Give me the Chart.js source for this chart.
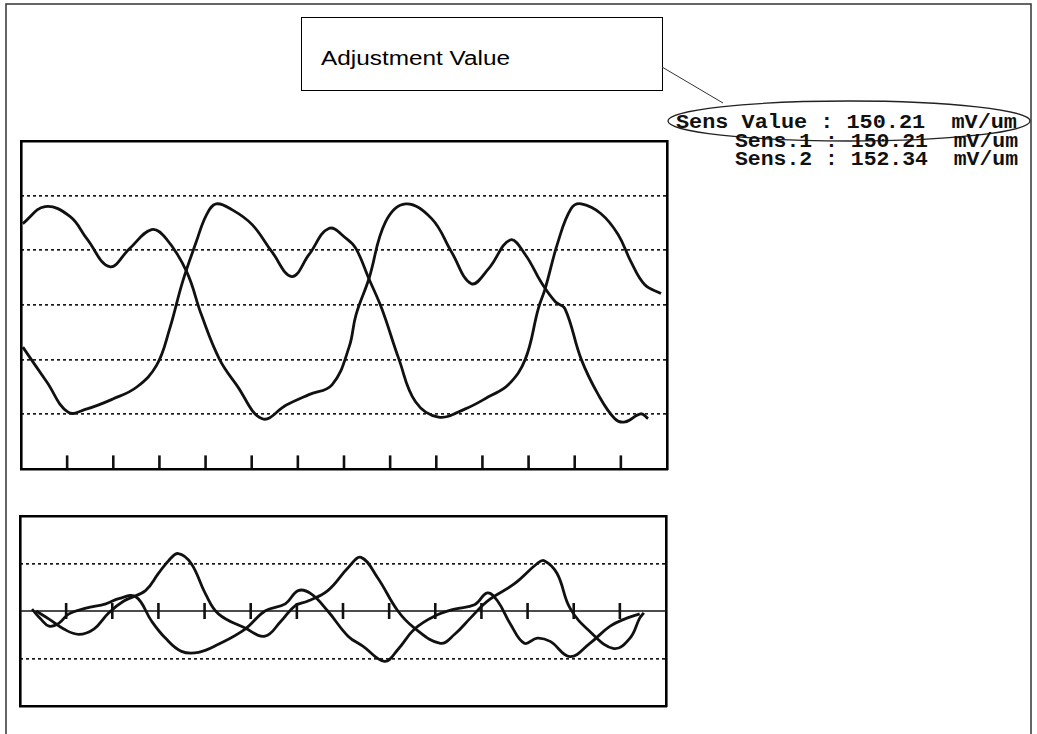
<!DOCTYPE html>
<html><head><meta charset="utf-8">
<script src="https://cdn.jsdelivr.net/npm/chart.js@4.4.1/dist/chart.umd.min.js"></script>
<style>
html,body{margin:0;padding:0;background:#fff;}
body{width:1037px;height:734px;position:relative;overflow:hidden;}
#ann{position:absolute;left:0;top:0;}
canvas{position:absolute;}
#cTop{left:18px;top:138px;}
#cBot{left:17px;top:513px;}
.mono{font-family:"Liberation Mono","DejaVu Sans Mono",monospace;font-weight:bold;font-size:20px;white-space:pre;fill:#111;}
</style></head><body>
<svg id="ann" width="1037" height="734">
  <path d="M6 740 L6 4 L1031 4 L1031 740" fill="none" stroke="#333" stroke-width="1.5"/>
  <rect x="301.5" y="17.5" width="361" height="73" fill="#fff" stroke="#000" stroke-width="1"/>
  <text x="321" y="65" font-family="Liberation Sans, Arial, sans-serif" font-size="20" textLength="189" lengthAdjust="spacingAndGlyphs" fill="#000">Adjustment Value</text>
  <line x1="662" y1="67" x2="723" y2="103" stroke="#333" stroke-width="1"/>
  <ellipse cx="849" cy="121" rx="181" ry="20" fill="none" stroke="#222" stroke-width="1.3"/>
  <text class="mono" x="676" y="128" textLength="341" lengthAdjust="spacingAndGlyphs">Sens Value : 150.21  mV/um</text>
  <text class="mono" x="735" y="147" textLength="283" lengthAdjust="spacingAndGlyphs">Sens.1 : 150.21  mV/um</text>
  <text class="mono" x="735" y="165" textLength="283" lengthAdjust="spacingAndGlyphs">Sens.2 : 152.34  mV/um</text>
</svg>
<canvas id="cTop" width="652" height="334"></canvas>
<canvas id="cBot" width="652" height="196"></canvas>
<script>
// ---- data (x in tick divisions 0..14) ----
const tickPositions = [1,2,3,4,5,6,7,8,9,10,11,12,13];

const topSig1X = [0.04,0.52,1.06,1.43,1.92,2.35,2.83,3.15,3.59,3.91,4.30,4.67,5.23,5.75,6.24,6.74,7.11,7.26,7.54,7.90,8.34,8.90,9.33,9.76,10.13,10.60,10.93,11.27,11.58,11.79,12.14,12.51,12.87,13.09,13.43,13.59];
const topSig1Y = [4.49,4.80,4.62,4.21,3.70,4.03,4.38,4.21,3.61,2.82,2.01,1.54,0.92,1.17,1.36,1.54,2.23,2.82,3.48,4.52,4.85,4.58,3.97,3.39,3.66,4.19,3.92,3.42,3.06,2.93,2.01,1.36,0.92,0.86,1.01,0.92];

const topSig2X = [0.04,0.56,1.02,1.43,1.99,2.51,2.94,3.22,3.50,3.80,4.02,4.23,4.58,5.01,5.44,5.87,6.24,6.67,7.06,7.26,7.54,7.82,8.19,8.55,9.05,9.63,10.13,10.56,10.93,11.21,11.36,11.64,11.92,12.14,12.57,12.94,13.22,13.52,13.87];
const topSig2Y = [2.23,1.59,1.04,1.10,1.28,1.50,1.90,2.56,3.42,4.16,4.65,4.85,4.74,4.47,3.97,3.52,3.92,4.40,4.21,4.03,3.48,2.93,2.01,1.23,0.95,1.10,1.32,1.54,2.01,2.93,3.30,4.16,4.76,4.85,4.67,4.29,3.79,3.37,3.21];

const botSig1X = [0.35,0.63,0.95,1.27,1.60,1.92,2.25,2.72,3.00,3.22,3.43,3.71,4.02,4.30,4.88,5.31,5.66,5.96,6.24,6.67,7.11,7.39,7.75,8.19,8.55,9.11,9.42,9.76,10.13,10.71,11.21,11.36,11.64,11.92,12.35,12.87,13.22,13.43,13.52];
const botSig1Y = [0.00,-0.17,-0.38,-0.49,-0.38,-0.04,0.21,0.43,0.79,1.06,1.21,1.00,0.36,-0.06,-0.36,-0.53,-0.21,0.11,0.21,0.43,0.91,1.13,0.70,0.00,-0.36,-0.68,-0.49,-0.15,0.21,0.57,1.00,1.06,0.79,0.06,-0.43,-0.79,-0.57,-0.15,-0.04];

const botSig2X = [0.26,0.45,0.63,0.84,1.06,1.43,1.86,2.14,2.51,2.85,3.15,3.50,3.87,4.30,4.88,5.31,5.75,6.03,6.31,6.67,7.11,7.43,7.90,8.19,8.55,8.98,9.42,9.85,10.13,10.35,10.63,10.93,11.21,11.49,11.92,12.35,12.79,13.15,13.43];
const botSig2Y = [0.04,-0.17,-0.32,-0.26,-0.06,0.06,0.15,0.26,0.30,-0.21,-0.57,-0.85,-0.87,-0.70,-0.38,0.00,0.15,0.43,0.36,0.00,-0.53,-0.74,-1.06,-0.81,-0.38,-0.11,0.04,0.13,0.38,0.21,-0.28,-0.68,-0.57,-0.64,-0.96,-0.68,-0.32,-0.15,-0.06];

const topGridLevels = [1,2,3,4,5];
const botGridLevels = [-1,1];

// ---- helpers ----
const pts = (xs, ys) => xs.map((x, i) => ({x: x, y: ys[i]}));
const INK = '#111';

function curve(xs, ys) {
  return {type:'line', data: pts(xs, ys), borderColor: INK, borderWidth: 2.8,
          pointRadius: 0, tension: 0.4, fill: false, xAxisID:'x', yAxisID:'y'};
}
function tickMarks(yVal, r) {
  return {type:'scatter', data: tickPositions.map(x => ({x: x, y: yVal})),
          pointStyle:'line', rotation: 90, pointRadius: r, borderColor: INK,
          borderWidth: 2.6, showLine:false, xAxisID:'x', yAxisID:'y'};
}
function frameAxis(pos, min, max) {
  return {type:'linear', position: pos, min: min, max: max, display: true,
          ticks:{display:false}, grid:{display:false, drawTicks:false},
          border:{display:true, color:'#000', width:2.6}};
}
function baseOptions(ymin, ymax, levels) {
  return {
    responsive:false, animation:false, events:[],
    layout:{padding:3, autoPadding:false},
    plugins:{legend:{display:false}, tooltip:{enabled:false}},
    scales:{
      x:{type:'linear', min:0, max:14, offset:false, display:true,
         ticks:{display:false}, grid:{display:false, drawTicks:false},
         border:{display:true, color:'#000', width:2.6}},
      xTop: frameAxis('top', 0, 14),
      y:{type:'linear', min:ymin, max:ymax, display:true,
         afterBuildTicks: s => { s.ticks = levels.map(v => ({value:v})); },
         ticks:{display:false},
         grid:{display:true, drawTicks:false, color:'#1a1a1a', lineWidth:1.7},
         border:{display:false, dash:[3,3]}},
      yLeft: frameAxis('left', ymin, ymax),
      yRight: frameAxis('right', ymin, ymax)
    }
  };
}

new Chart(document.getElementById('cTop'), {
  data:{datasets:[
    curve(topSig1X, topSig1Y),
    curve(topSig2X, topSig2Y),
    tickMarks(0.13, 6.5)
  ]},
  options: baseOptions(0, 6, topGridLevels)
});

new Chart(document.getElementById('cBot'), {
  data:{datasets:[
    {type:'line', data:[{x:0,y:0},{x:14,y:0}], borderColor:INK, borderWidth:1.6,
     pointRadius:0, xAxisID:'x', yAxisID:'y'},
    curve(botSig1X, botSig1Y),
    curve(botSig2X, botSig2Y),
    tickMarks(0, 8)
  ]},
  options: baseOptions(-2, 2, botGridLevels)
});
</script>
</body></html>
